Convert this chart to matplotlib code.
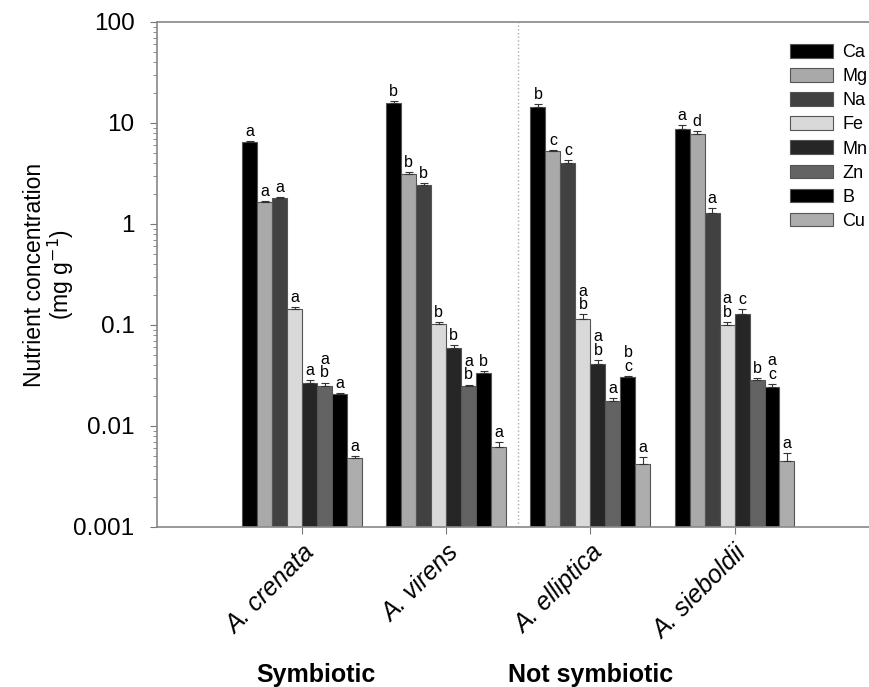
import numpy as np
import matplotlib.pyplot as plt

plt.rcParams['font.family'] = ['Liberation Sans', 'DejaVu Sans']

species = ['A. crenata', 'A. virens', 'A. elliptica', 'A. sieboldii']
nutrients = ['Ca', 'Mg', 'Na', 'Fe', 'Mn', 'Zn', 'B', 'Cu']

# mean concentration (mg/g), one list per species, in nutrient order
crenata = [6.5, 1.65, 1.8, 0.144, 0.0267, 0.0249, 0.0207, 0.0048]
virens = [15.8, 3.13, 2.43, 0.102, 0.059, 0.0249, 0.0335, 0.0062]
elliptica = [14.4, 5.28, 4.02, 0.115, 0.041, 0.0177, 0.0305, 0.0042]
sieboldii = [8.7, 7.8, 1.28, 0.100, 0.128, 0.0285, 0.0243, 0.0045]

# upper error bars
err_crenata = [0.15, 0.05, 0.06, 0.008, 0.0015, 0.002, 0.0005, 0.0002]
err_virens = [0.7, 0.15, 0.1, 0.005, 0.004, 0.0008, 0.0015, 0.0007]
err_elliptica = [0.9, 0.1, 0.3, 0.012, 0.004, 0.0012, 0.0008, 0.0007]
err_sieboldii = [0.8, 0.6, 0.15, 0.007, 0.015, 0.0012, 0.0017, 0.0009]

# significance letters
let_crenata = ['a', 'a', 'a', 'a', 'a', 'a\nb', 'a', 'a']
let_virens = ['b', 'b', 'b', 'b', 'b', 'a\nb', 'b', 'a']
let_elliptica = ['b', 'c', 'c', 'a\nb', 'a\nb', 'a', 'b\nc', 'a']
let_sieboldii = ['a', 'd', 'a', 'a\nb', 'c', 'b', 'a\nc', 'a']

colors = ['#000000', '#a9a9a9', '#414141', '#d9d9d9', '#262626', '#636363', '#000000', '#adadad']

means = np.array([crenata, virens, elliptica, sieboldii])
errs = np.array([err_crenata, err_virens, err_elliptica, err_sieboldii])
letters = [let_crenata, let_virens, let_elliptica, let_sieboldii]

fig = plt.figure(figsize=(8.7, 6.87), dpi=100)
ax = fig.add_axes([0.180, 0.233, 0.82, 0.735])

x = np.arange(len(species))
w = 0.104
for j, nut in enumerate(nutrients):
    pos = x + (j - 3.5) * w
    ax.bar(pos, means[:, j], w, color=colors[j], edgecolor='#555555',
           linewidth=0.8, label=nut, zorder=2)
    ax.errorbar(pos, means[:, j], yerr=[np.zeros(4), errs[:, j]], fmt='none',
                ecolor='#333333', elinewidth=0.8, capsize=3, capthick=0.8, zorder=3)
    for i in range(len(species)):
        ax.annotate(letters[i][j], (pos[i], means[i, j] + errs[i, j]),
                    xytext=(0, 1.5), textcoords='offset points', ha='center',
                    va='bottom', fontsize=11.5, linespacing=0.9)

ax.set_yscale('log')
ax.set_ylim(0.001, 100)
ax.set_xlim(-1.01, 3.94)
ax.set_yticks([0.001, 0.01, 0.1, 1, 10, 100])
ax.set_yticklabels(['0.001', '0.01', '0.1', '1', '10', '100'], fontsize=17.5)
ax.set_xticks(x)
ax.set_xticklabels(species, fontsize=18, style='italic', rotation=45,
                   ha='right', va='top', rotation_mode='anchor')
ax.tick_params(axis='x', length=5, color='#777777', pad=5)
ax.tick_params(axis='y', which='major', length=5, color='#777777', pad=11)
ax.tick_params(axis='y', which='minor', length=3, color='#777777')

for s in ['left', 'bottom', 'top']:
    ax.spines[s].set_color('#888888')
    ax.spines[s].set_linewidth(1.2)
ax.spines['right'].set_visible(False)

ax.axvline(1.5, color='#aaaaaa', linestyle=':', linewidth=1, zorder=1)

ax.set_ylabel('Nutrient concentration\n(mg g$^{-1}$)', fontsize=16.5, labelpad=-2,
              linespacing=1.0)

ax.legend(loc='upper left', bbox_to_anchor=(790 / 870, 1 - 44 / 687),
          bbox_transform=fig.transFigure, frameon=False, fontsize=13,
          handlelength=2.4, handleheight=0.78, labelspacing=0.39,
          handletextpad=0.5, borderaxespad=0, borderpad=0)

fig.text(316 / 870, 1 - 682 / 687, 'Symbiotic', fontsize=18, fontweight='bold',
         ha='center', va='baseline')
fig.text(591 / 870, 1 - 682 / 687, 'Not symbiotic', fontsize=18, fontweight='bold',
         ha='center', va='baseline')

fig.savefig('out.png', dpi=100)
